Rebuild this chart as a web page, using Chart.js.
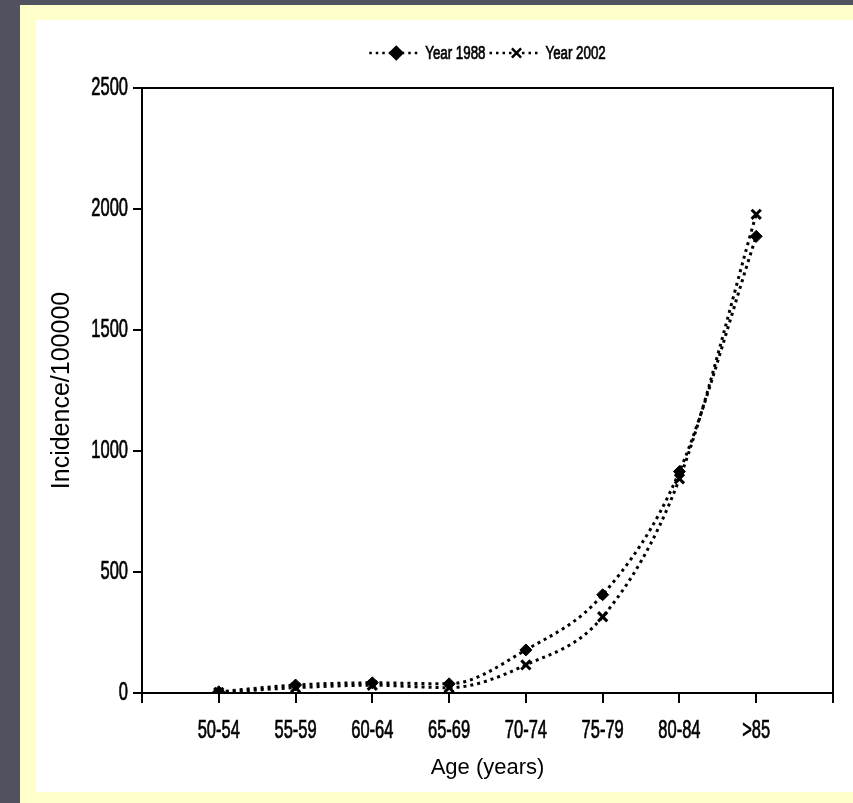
<!DOCTYPE html>
<html>
<head>
<meta charset="utf-8">
<script src="https://cdn.jsdelivr.net/npm/chart.js@4.4.1/dist/chart.umd.min.js"></script>
<style>
  html, body { margin: 0; padding: 0; }
  body { width: 853px; height: 803px; background: #50525f; position: relative; overflow: hidden; }
  #panel { position: absolute; left: 20px; top: 5px; width: 833px; height: 798px; background: #ffffcc; }
  #sheet { position: absolute; left: 36px; top: 20px; width: 817px; height: 772px; background: #fff; }
  canvas { display: block; }
</style>
</head>
<body>
<div id="panel"></div>
<div id="sheet"><canvas id="chart" width="817" height="772"></canvas></div>
<script>
// --- data ---
const ageGroups = ['50-54', '55-59', '60-64', '65-69', '70-74', '75-79', '80-84', '>85'];
const year1988 = [5, 33, 42, 38, 178, 406, 915, 1887];
const year2002 = [2, 22, 32, 22, 116, 315, 885, 1978];
const seriesNames = ['Year 1988', 'Year 2002'];
const yMax = 2500;
const yStep = 500;

const plain = "'Liberation Sans', Arial, sans-serif";
// the figure uses a narrow face; no narrow font is installed, so squeeze the text
const squeeze = 0.66;

const toPoints = arr => arr.map((v, i) => ({ x: i + 1, y: v }));

function narrowText(ctx, text, x, y, size, align, sx) {
    ctx.save();
    ctx.font = size + 'px ' + plain;
    ctx.textAlign = align;
    ctx.textBaseline = 'middle';
    ctx.fillStyle = '#000';
    ctx.strokeStyle = '#000';
    ctx.lineWidth = 0.7;
    ctx.translate(x, y);
    ctx.scale(sx, 1);
    ctx.fillText(text, 0, 0);
    ctx.strokeText(text, 0, 0);  // scan looks heavier than a plain face
    ctx.restore();
}

// frame on top/right, narrow tick labels, legend with dotted line + marker
const framePlugin = {
    id: 'frameAndLegend',
    afterDraw(chart) {
        const { ctx, chartArea: a, scales } = chart;
        ctx.save();
        ctx.strokeStyle = '#000';
        ctx.lineWidth = 2;
        ctx.beginPath();
        ctx.moveTo(a.left - 1, a.top);
        ctx.lineTo(a.right, a.top);
        ctx.lineTo(a.right, a.bottom);
        ctx.stroke();
        ctx.restore();

        // tick labels
        scales.x.ticks.forEach(t => {
            const lbl = ageGroups[t.value - 1];
            if (lbl) narrowText(ctx, lbl, scales.x.getPixelForValue(t.value), a.bottom + 38, 25, 'center', squeeze);
        });
        scales.y.ticks.forEach(t => {
            narrowText(ctx, String(t.value), a.left - 14, scales.y.getPixelForValue(t.value), 25, 'right', squeeze);
        });

        // legend
        ctx.save();
        ctx.font = '18px ' + plain;
        const sx = 0.74;
        const lineLen = 48, gapText = 8, gapItem = 4;
        const items = chart.data.datasets.map(ds => ({ ds, w: ctx.measureText(ds.label).width * sx }));
        const total = items.reduce((s, it) => s + lineLen + gapText + it.w, 0) + gapItem * (items.length - 1);
        let x = (a.left + a.right) / 2 - total / 2;
        const y = 33;
        items.forEach(it => {
            ctx.strokeStyle = '#000';
            ctx.fillStyle = '#000';
            ctx.lineWidth = 2.5;
            ctx.setLineDash([2.5, 4]);
            ctx.beginPath();
            ctx.moveTo(x, y);
            ctx.lineTo(x + lineLen, y);
            ctx.stroke();
            ctx.setLineDash([]);
            Chart.helpers.drawPoint(ctx, {
                pointStyle: it.ds.pointStyle,
                radius: it.ds.pointRadius,
                borderWidth: it.ds.pointBorderWidth
            }, x + lineLen / 2 + 3, y);
            narrowText(ctx, it.ds.label, x + lineLen + gapText, y + 1, 18, 'left', sx);
            x += lineLen + gapText + it.w + gapItem;
        });
        ctx.restore();
    }
};

const common = {
    borderColor: '#000',
    backgroundColor: '#000',
    pointBackgroundColor: '#000',
    pointBorderColor: '#000',
    borderWidth: 3,
    borderDash: [3, 4],
    borderCapStyle: 'butt',
    cubicInterpolationMode: 'monotone',
    fill: false
};

new Chart(document.getElementById('chart'), {
    type: 'line',
    data: {
        datasets: [
            Object.assign({}, common, {
                label: seriesNames[0],
                data: toPoints(year1988),
                pointStyle: 'rectRot',
                pointRadius: 6,
                pointBorderWidth: 1
            }),
            Object.assign({}, common, {
                label: seriesNames[1],
                data: toPoints(year2002),
                pointStyle: 'crossRot',
                pointRadius: 6.5,
                pointBorderWidth: 3
            })
        ]
    },
    options: {
        responsive: false,
        animation: false,
        layout: { padding: { top: 68, right: 20, left: 0, bottom: 0 } },
        plugins: { legend: { display: false }, tooltip: { enabled: false } },
        scales: {
            x: {
                type: 'linear',
                min: 0,
                max: ageGroups.length + 1,
                afterFit: s => { s.height = 99; },
                border: { color: '#000', width: 2 },
                grid: { drawOnChartArea: false, drawTicks: true, tickLength: 10, color: '#000', lineWidth: 2 },
                ticks: { stepSize: 1, display: false },
                title: {
                    display: true,
                    text: 'Age (years)',
                    color: '#000',
                    font: { family: plain, size: 22 },
                    padding: { top: 0, bottom: 11 }
                }
            },
            y: {
                min: 0,
                max: yMax,
                afterFit: s => { s.width = 106; },
                border: { color: '#000', width: 2 },
                grid: { drawOnChartArea: false, drawTicks: true, tickLength: 9, color: '#000', lineWidth: 2 },
                ticks: { stepSize: yStep, display: false },
                title: {
                    display: true,
                    text: 'Incidence/100000',
                    color: '#000',
                    font: { family: plain, size: 25 },
                    padding: { top: 11, bottom: 0 }
                }
            }
        }
    },
    plugins: [framePlugin]
});
</script>
</body>
</html>
